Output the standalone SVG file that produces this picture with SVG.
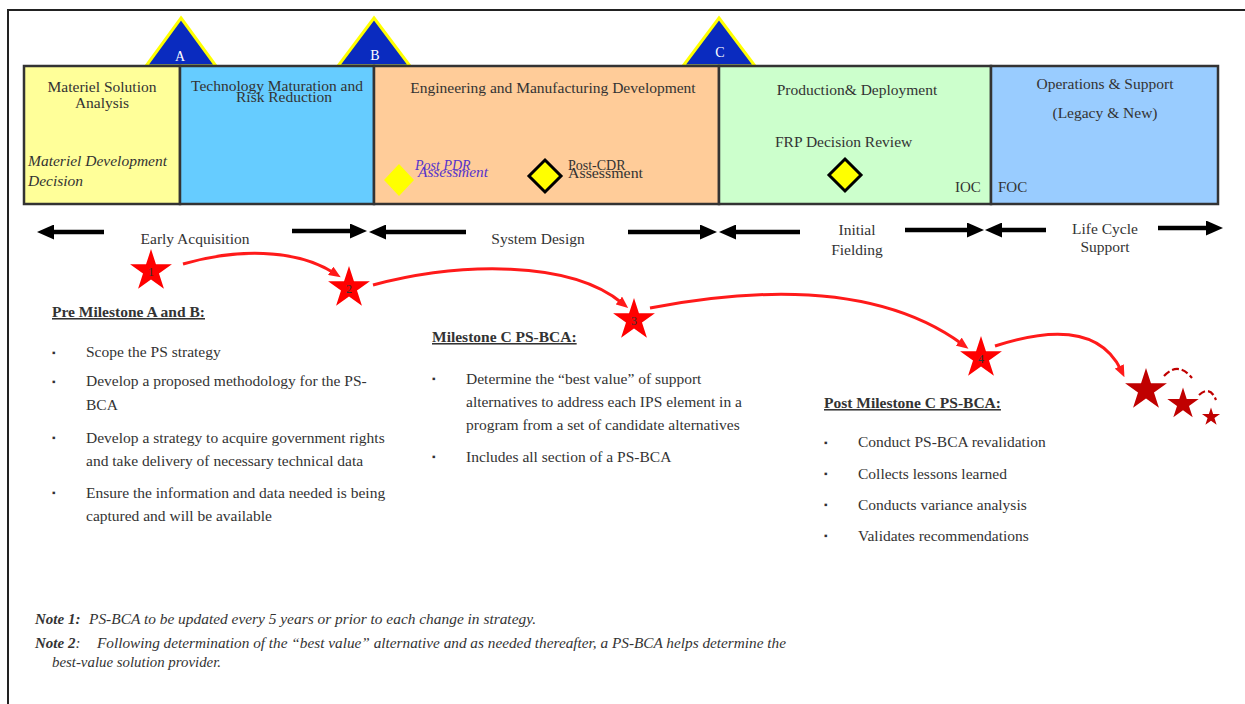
<svg xmlns="http://www.w3.org/2000/svg" width="1245" height="704" viewBox="0 0 1245 704">
  <style>
    .t { font-family: "Liberation Serif", "Times New Roman", serif; fill: #333; }
    .box { stroke: #333; stroke-width: 2.5; }
    .lbl { font-size: 15.5px; }
    .body { font-size: 15.5px; }
    .head { font-size: 15.5px; font-weight: bold; text-decoration: underline; }
    .note { font-size: 15px; font-style: italic; }
    .ms { fill: #0a2bbf; stroke: #ffff00; stroke-width: 3; stroke-linejoin: miter; }
    .msl { font-family: "Liberation Serif", serif; font-size: 14px; fill: #fff; text-anchor: middle; }
    .blk { stroke: #000; stroke-width: 4.5; fill: none; marker-end: url(#blkhead); }
    .red { stroke: #ff1a1a; stroke-width: 3; fill: none; marker-end: url(#redhead); }
    .dash { stroke: #c00000; stroke-width: 2.2; fill: none; stroke-dasharray: 7 3; }
    .bul { font-size: 10px; }
    .num { font-family: "Liberation Serif", serif; font-size: 12px; fill: #333; text-anchor: middle; }
    .pdr { fill: #5533cc; font-style: italic; font-size: 14px; }
  </style>
  <defs>
    <marker id="blkhead" viewBox="0 0 17 15" markerWidth="17" markerHeight="15" refX="6" refY="7.5" orient="auto" markerUnits="userSpaceOnUse">
      <path d="M0,0 L17,7.5 L0,15 Z" fill="#000"/>
    </marker>
    <marker id="redhead" viewBox="0 0 12 10" markerWidth="12" markerHeight="10" refX="4" refY="5" orient="auto" markerUnits="userSpaceOnUse">
      <path d="M0,0 L12,5 L0,10 Z" fill="#ff1a1a"/>
    </marker>
    <path id="star" d="M0,-10 L2.245,-3.09 L9.511,-3.09 L3.633,1.18 L5.878,8.09 L0,3.82 L-5.878,8.09 L-3.633,1.18 L-9.511,-3.09 L-2.245,-3.09 Z"/>
  </defs>

  <!-- frame -->
  <rect width="1245" height="704" fill="#fff"/>
  <path d="M8,704 L8,10 L1245,10" fill="none" stroke="#222" stroke-width="2"/>

  <!-- milestone triangles -->
  <g id="milestone-a">
    <polygon class="ms" points="181,18 216,66 146,66"/>
    <text class="msl" x="180" y="61">A</text>
  </g>
  <g id="milestone-b">
    <polygon class="ms" points="374,18 410,66 338,66"/>
    <text class="msl" x="375" y="60">B</text>
  </g>
  <g id="milestone-c">
    <polygon class="ms" points="719,18 755,66 683,66"/>
    <text class="msl" x="720" y="57">C</text>
  </g>

  <!-- phase boxes -->
  <g id="phase-msa">
    <rect class="box" x="24" y="66" width="156" height="138" fill="#ffff99"/>
    <text class="t lbl" x="102" y="92" text-anchor="middle">Materiel Solution</text>
    <text class="t lbl" x="102" y="108" text-anchor="middle">Analysis</text>
    <text class="t lbl" x="28" y="166" font-style="italic">Materiel Development</text>
    <text class="t lbl" x="28" y="186" font-style="italic">Decision</text>
  </g>
  <g id="phase-tmrr">
    <rect class="box" x="180" y="66" width="194" height="138" fill="#66ccff"/>
    <text class="t lbl" x="277" y="91" text-anchor="middle">Technology Maturation and</text>
    <text class="t lbl" x="284" y="102" text-anchor="middle">Risk Reduction</text>
  </g>
  <g id="phase-emd">
    <rect class="box" x="374" y="66" width="345" height="138" fill="#ffcc99"/>
    <text class="t lbl" x="553" y="93" text-anchor="middle">Engineering and  Manufacturing Development</text>
    <polygon points="399,164 414,180 399,196 384,180" fill="#ffff00"/>
    <text class="t pdr" x="415" y="170" style="fill:#5533cc">Post PDR</text>
    <text class="t pdr" x="418" y="177" style="fill:#5533cc" textLength="70" lengthAdjust="spacingAndGlyphs">Assessment</text>
    <polygon points="545,160 561,176 545,192 529,176" fill="#ffff00" stroke="#000" stroke-width="3"/>
    <text class="t" x="568" y="170" font-size="14px">Post-CDR</text>
    <text class="t" x="568" y="178" font-size="14px" textLength="75" lengthAdjust="spacingAndGlyphs">Assessment</text>
  </g>
  <g id="phase-pd">
    <rect class="box" x="719" y="66" width="272" height="138" fill="#ccffcc"/>
    <text class="t lbl" x="857" y="95" text-anchor="middle">Production&amp; Deployment</text>
    <text class="t lbl" x="775" y="147">FRP Decision  Review</text>
    <polygon points="845,159 861,175 845,191 829,175" fill="#ffff00" stroke="#000" stroke-width="3"/>
    <text class="t" x="955" y="192" font-size="15px">IOC</text>
  </g>
  <g id="phase-os">
    <rect class="box" x="991" y="66" width="227" height="138" fill="#99ccff"/>
    <text class="t lbl" x="1105" y="89" text-anchor="middle">Operations &amp; Support</text>
    <text class="t lbl" x="1105" y="118" text-anchor="middle">(Legacy &amp; New)</text>
    <text class="t" x="998" y="192" font-size="15px">FOC</text>
  </g>

  <!-- span labels -->
  <g id="span-labels">
    <text class="t body" x="195" y="244" text-anchor="middle">Early Acquisition</text>
    <text class="t body" x="538" y="244" text-anchor="middle">System Design</text>
    <text class="t body" x="857" y="235" text-anchor="middle">Initial</text>
    <text class="t body" x="857" y="255" text-anchor="middle">Fielding</text>
    <text class="t body" x="1105" y="234" text-anchor="middle">Life Cycle</text>
    <text class="t body" x="1105" y="252" text-anchor="middle">Support</text>
  </g>

  <!-- stars -->
  <g id="star-1">
    <use href="#star" transform="translate(151,271) scale(2.2)" fill="#ff0000"/>
    <text class="num" x="151" y="276">1</text>
  </g>
  <g id="star-2">
    <use href="#star" transform="translate(349,288) scale(2.2)" fill="#ff0000"/>
    <text class="num" x="349" y="293">2</text>
  </g>
  <g id="star-3">
    <use href="#star" transform="translate(634,320) scale(2.2)" fill="#ff0000"/>
    <text class="num" x="634" y="325">3</text>
  </g>
  <g id="star-4">
    <use href="#star" transform="translate(981,358) scale(2.2)" fill="#ff0000"/>
    <text class="num" x="981" y="363">4</text>
  </g>
  <g id="star-cycle">
    <use href="#star" transform="translate(1146,390) scale(2.2)" fill="#c00000"/>
    <use href="#star" transform="translate(1183,404) scale(1.65)" fill="#c00000"/>
    <use href="#star" transform="translate(1211,417) scale(0.95)" fill="#c00000"/>
    <path class="dash" d="M1164,376 Q1178,361 1192,378"/>
    <path class="dash" d="M1199,395 Q1210,385 1216,400"/>
  </g>

  <!-- connectors -->
  <g id="connectors">
    <line class="blk" x1="104" y1="232" x2="48" y2="232"/>
    <line class="blk" x1="292" y1="231" x2="356" y2="231"/>
    <line class="blk" x1="466" y1="232" x2="380" y2="232"/>
    <line class="blk" x1="628" y1="232" x2="706" y2="232"/>
    <line class="blk" x1="800" y1="232" x2="730" y2="232"/>
    <line class="blk" x1="905" y1="230" x2="973" y2="230"/>
    <line class="blk" x1="1046" y1="230" x2="996" y2="230"/>
    <line class="blk" x1="1158" y1="228" x2="1212" y2="228"/>
    <path class="red" d="M183,264 C235,249 295,248 334,273"/>
    <path class="red" d="M373,285 C460,262 570,260 622,303"/>
    <path class="red" d="M650,308 C760,287 880,284 962,344"/>
    <path class="red" d="M995,346 C1050,328 1100,326 1121,370"/>
  </g>

  <!-- pre milestone A and B -->
  <g id="text-pre-ab">
    <text class="t head" x="52" y="317">Pre Milestone A and B:</text>
    <g class="t body">
      <text class="bul" x="52" y="356">▪</text>
      <text x="86" y="357">Scope the PS strategy</text>
      <text class="bul" x="52" y="385">▪</text>
      <text x="86" y="386">Develop a proposed methodology  for the PS-</text>
      <text x="86" y="410">BCA</text>
      <text class="bul" x="52" y="441">▪</text>
      <text x="86" y="443">Develop a strategy to acquire government rights</text>
      <text x="86" y="466">and take delivery of necessary technical data</text>
      <text class="bul" x="52" y="496">▪</text>
      <text x="86" y="498">Ensure the information and data needed is being</text>
      <text x="86" y="521">captured and will be available</text>
    </g>
  </g>

  <!-- milestone C -->
  <g id="text-ms-c">
    <text class="t head" x="432" y="342">Milestone C PS-BCA:</text>
    <g class="t body">
      <text class="bul" x="432" y="382">▪</text>
      <text x="466" y="384">Determine the “best value” of support</text>
      <text x="466" y="407">alternatives  to address each IPS element in a</text>
      <text x="466" y="430">program from a set of candidate alternatives</text>
      <text class="bul" x="432" y="460">▪</text>
      <text x="466" y="462">Includes all  section of a PS-BCA</text>
    </g>
  </g>

  <!-- post milestone C -->
  <g id="text-post-c">
    <text class="t head" x="824" y="408">Post Milestone C PS-BCA:</text>
    <g class="t body">
      <text class="bul" x="824" y="446">▪</text>
      <text x="858" y="447">Conduct PS-BCA revalidation</text>
      <text class="bul" x="824" y="477">▪</text>
      <text x="858" y="479">Collects lessons learned</text>
      <text class="bul" x="824" y="508">▪</text>
      <text x="858" y="510">Conducts variance analysis</text>
      <text class="bul" x="824" y="539">▪</text>
      <text x="858" y="541">Validates recommendations</text>
    </g>
  </g>

  <!-- notes -->
  <g id="notes" class="t note">
    <text x="35" y="624" font-weight="bold">Note 1:</text>
    <text x="89" y="624" textLength="447" lengthAdjust="spacingAndGlyphs">PS-BCA to be updated every 5 years or prior to each change in strategy.</text>
    <text x="35" y="648"><tspan font-weight="bold">Note 2</tspan>:</text>
    <text x="97" y="648" textLength="689" lengthAdjust="spacingAndGlyphs">Following determination of the “best value” alternative and as needed thereafter, a PS-BCA helps determine the</text>
    <text x="52" y="667" textLength="169" lengthAdjust="spacingAndGlyphs">best-value solution provider.</text>
  </g>
</svg>
